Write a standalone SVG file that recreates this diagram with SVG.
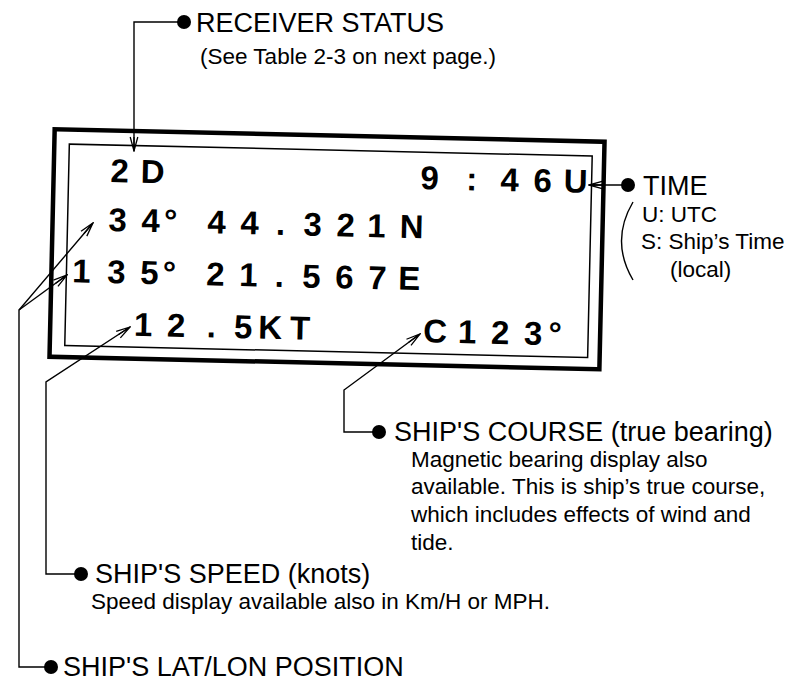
<svg xmlns="http://www.w3.org/2000/svg" width="790" height="682" viewBox="0 0 790 682">
<defs>
<style>
.lbl{font-family:"Liberation Sans",Arial,sans-serif;font-size:27px;fill:#000}
.sub{font-family:"Liberation Sans",Arial,sans-serif;font-size:22.5px;fill:#000}
.lcd{font-family:"Liberation Sans",Arial,sans-serif;font-size:33px;font-weight:bold;fill:#000;text-anchor:middle}
.ln{fill:none;stroke:#000;stroke-width:1.4}
.dot{fill:#000}
</style>
<marker id="ah" markerWidth="16" markerHeight="10" refX="0" refY="0" viewBox="-15 -5 16 10" orient="auto" markerUnits="userSpaceOnUse">
<path d="M-14,-3.8 L0,0 L-14,3.8 M-14,0 L0,0" fill="none" stroke="#000" stroke-width="1.3"/>
</marker>
</defs>
<rect width="790" height="682" fill="#fff"/>

<g id="display" transform="rotate(1.3 327 250)">
<rect x="52" y="135.5" width="550" height="227.5" fill="none" stroke="#000" stroke-width="4.5"/>
<rect x="67" y="150" width="523" height="201.5" fill="none" stroke="#000" stroke-width="1.5"/>
<text class="lcd" x="118 151" y="187">2D</text>
<text class="lcd" x="428 470 508 541 574" y="187">9:46U</text>
<text class="lcd" x="117 150 170 193 216 249 280 312 345 376 411" y="236">34° 44.321N</text>
<text class="lcd" x="82 117 150 170 193 216 249 280 312 345 378 410" y="288">135° 21.567E</text>
<text class="lcd" x="145 178 213 245 272 302" y="340">12.5KT</text>
<text class="lcd" x="437 469 502 535 557" y="340">C123°</text>
</g>

<g id="connectors" class="ln">
<polyline class="ln" points="183,22 134,22 134,151" marker-end="url(#ah)"/>
<polyline class="ln" points="627,185 589,185" marker-end="url(#ah)"/>
<polyline class="ln" points="50,667 19,667 19,310 93,223" marker-end="url(#ah)"/>
<polyline class="ln" points="19,310 67,275" marker-end="url(#ah)"/>
<polyline class="ln" points="80,574 46,574 46,382 130,327" marker-end="url(#ah)"/>
<polyline class="ln" points="378,432 344,432 344,390 420,334" marker-end="url(#ah)"/>
<path class="ln" d="M633,202 Q610,241 633,280" stroke-width="1"/>
</g>

<g id="receiver-status">
<circle class="dot" cx="184" cy="22" r="7"/>
<text class="lbl" x="196" y="32">RECEIVER STATUS</text>
<text class="sub" x="200" y="64">(See Table 2-3 on next page.)</text>
</g>

<g id="time">
<circle class="dot" cx="628" cy="185" r="7"/>
<text class="lbl" x="643" y="195">TIME</text>
<text class="sub" x="642" y="222">U: UTC</text>
<text class="sub" x="641" y="249">S: Ship’s Time</text>
<text class="sub" x="670" y="277">(local)</text>
</g>

<g id="ships-course">
<circle class="dot" cx="379" cy="432" r="7"/>
<text class="lbl" x="394" y="441">SHIP'S COURSE (true bearing)</text>
<text class="sub" x="411" y="467">Magnetic bearing display also</text>
<text class="sub" x="411" y="494">available. This is ship’s true course,</text>
<text class="sub" x="411" y="522">which includes effects of wind and</text>
<text class="sub" x="411" y="550">tide.</text>
</g>

<g id="ships-speed">
<circle class="dot" cx="81" cy="574" r="7"/>
<text class="lbl" x="95" y="583">SHIP'S SPEED (knots)</text>
<text class="sub" x="91" y="609">Speed display available also in Km/H or MPH.</text>
</g>

<g id="ships-latlon">
<circle class="dot" cx="51" cy="667" r="7"/>
<text class="lbl" x="63" y="676">SHIP'S LAT/LON POSITION</text>
</g>
</svg>
